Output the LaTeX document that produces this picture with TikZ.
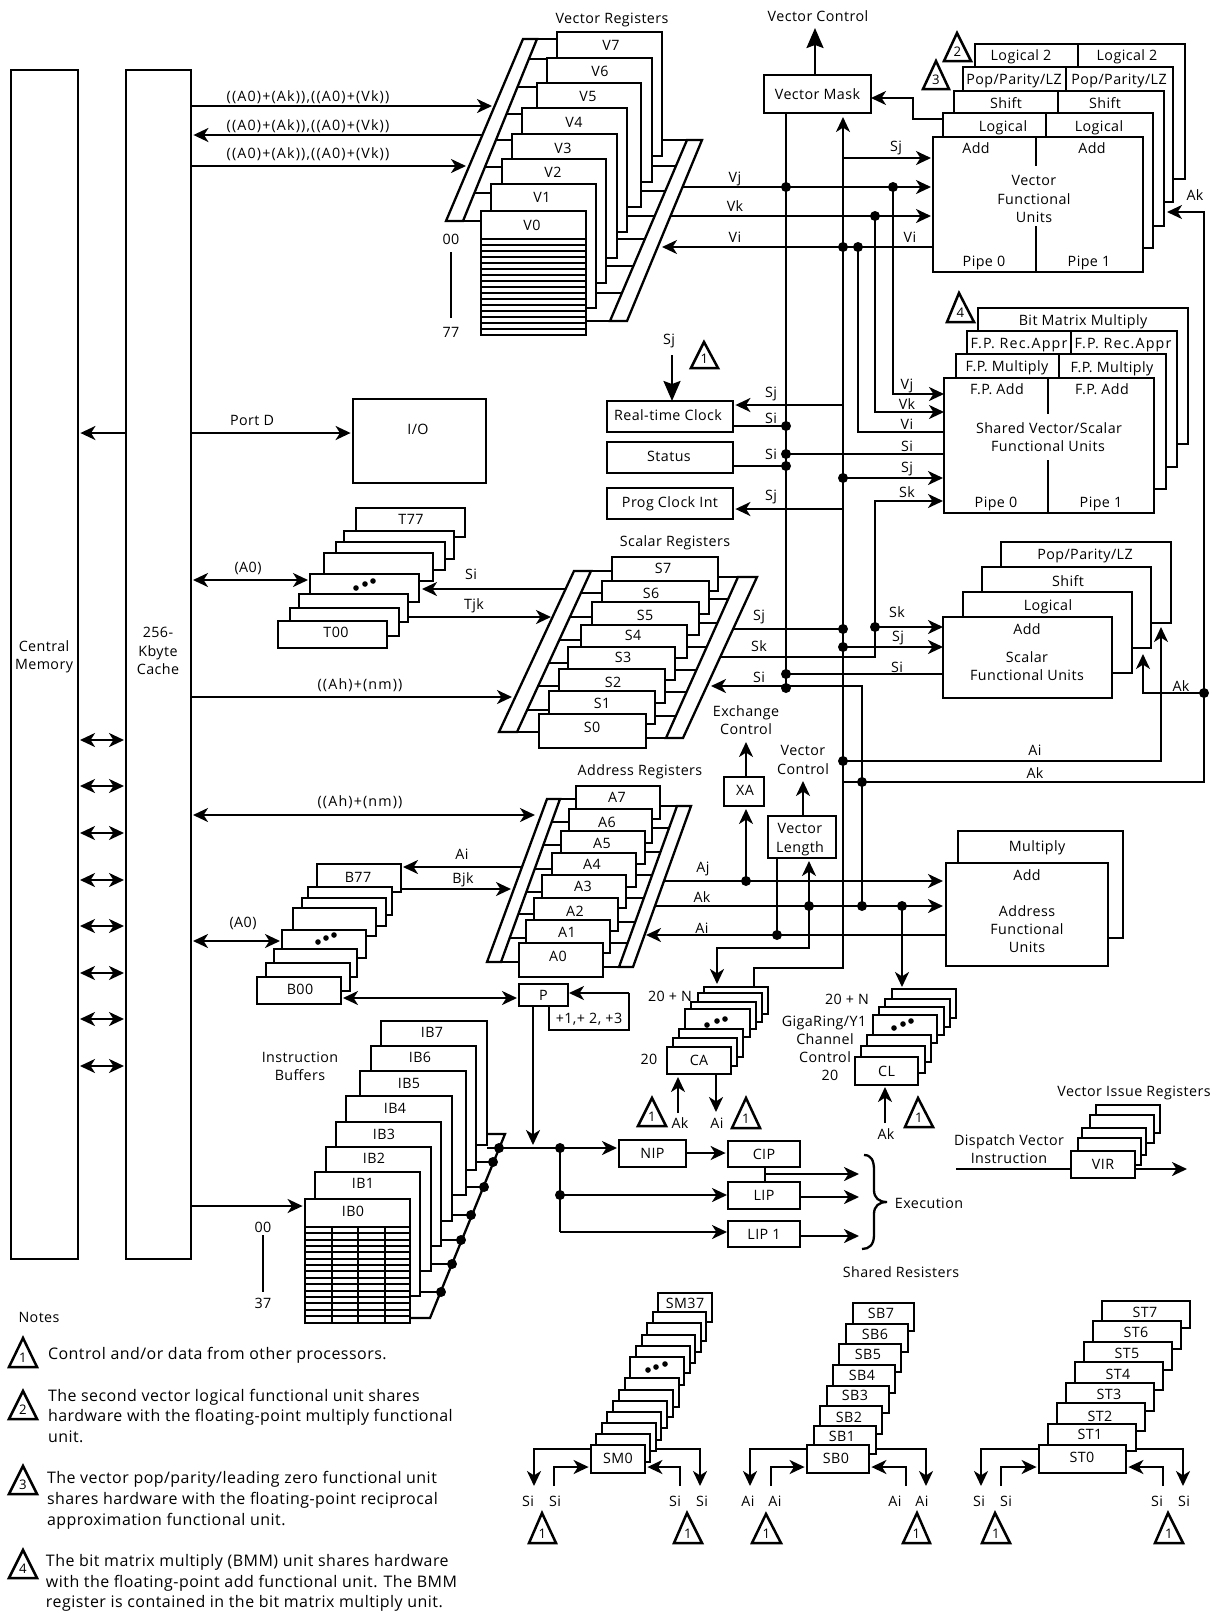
\documentclass[tikz,border=0pt]{standalone}
\usepackage{fontspec}
\setmainfont[LetterSpace=3]{Open Sans}
\newfontfamily\wideff[LetterSpace=8]{Open Sans}
\usetikzlibrary{arrows.meta,calc}
\newcommand\lf{\fontsize{7.14}{8.5}\selectfont}
\newcommand\nf{\fontsize{7.98}{9.5}\selectfont}
\newcounter{labc}\newcounter{junc}
\tikzset{
  wire/.style={line width=1.15pt,line cap=butt,line join=miter},
  arr/.style={wire,-{Stealth[length=7.5pt,width=7pt,inset=2.2pt]}},
  bigarr/.style={wire,-{Stealth[length=10pt,width=8.5pt,inset=1.5pt]}},
  darr/.style={wire,{Stealth[length=7.5pt,width=7pt,inset=2.2pt]}-{Stealth[length=7.5pt,width=7pt,inset=2.2pt]},shorten >=1pt,shorten <=1pt},
  gap/.style={shorten >=1.2pt},
  regbox/.style={draw,fill=white,line width=1.15pt,outer sep=0pt,inner sep=0pt,font=\lf,text height=5.1pt,text depth=0pt},
  lbl/.style={inner sep=0pt,outer sep=0pt,font=\lf,text height=5.1pt,text depth=0pt},
  notel/.style={inner sep=0pt,outer sep=0pt,font=\nf,text height=5.7pt,text depth=0pt,anchor=west},
  dot/.style={circle,fill=black,inner sep=0pt,minimum size=5pt,outer sep=0pt},
  numl/.style={inner sep=0pt,outer sep=0pt,font=\fontsize{6.6}{8}\selectfont,text height=4.7pt,text depth=0pt},
}
\newcommand\rbox[6]{%
  \pgfmathsetmacro\rbw{(#4-#2)*0.5}\pgfmathsetmacro\rbh{(#5-#3)*0.5}%
  \pgfmathsetmacro\rbx{(#2+#4)/2}\pgfmathsetmacro\rby{(#3+#5)/2}%
  \node[regbox,minimum width=\rbw pt,minimum height=\rbh pt] (#1) at (\rbx,\rby) {#6};}
\newcommand\lab[3]{\stepcounter{labc}\node[lbl] (lab\thelabc) at (#1,#2) {#3};}
\newcommand\noteline[3]{\stepcounter{labc}\node[notel] (lab\thelabc) at (#1,#2) {#3};}
\newcommand\junc[1]{\stepcounter{junc}\node[dot] (j\thejunc) at (#1) {};}
\newcommand\ntri[6]{\draw[wire,line width=1.25pt,fill=white] (#1,#3) -- (#2,#3) -- (#4,#5) -- cycle;
  \stepcounter{labc}\node[numl] (lab\thelabc) at ({(#1+#2)/2},#3-9) {#6};}
\newcommand\hties[5]{\foreach \yy/\xx in {#5} {\pgfmathsetmacro\ex{#1+(#2-\yy)*(#3-#1)/(#2-#4)}\draw[wire] (\ex,\yy) -- (\xx,\yy);}}
\newcommand\slantbar[6]{\draw[wire,fill=white] (#1,#3) -- (#2,#3) -- (#4,#6) -- (#5,#6) -- cycle;}
\newcommand\tdots[6]{\fill (#1,#2) circle[radius=1.4pt] (#3,#4) circle[radius=1.4pt] (#5,#6) circle[radius=1.4pt];}
\newcommand\xrails[1]{\foreach \nm/\val in {#1} {\coordinate (\nm) at (\val,0);}}
\newcommand\yrails[1]{\foreach \nm/\val in {#1} {\coordinate (\nm) at (0,\val);}}
\begin{document}
\begin{tikzpicture}[x=0.5pt,y=-0.5pt]
\useasboundingbox (0,0) rectangle (1218,1613);
\xrails{xT1/492,xT2/482,xT3/466,xAh1/512,xAh2/537,xA/786,xB/843,xVjS/682,xVkS/670,xViT/662,xVjD/893,xVkD/875,xViD/858,xFU/931,xFS/943,xSjS/733,xSkS/720,xSiT/711,xSk/875,xSi/862,xG/1204,xD/1161,xF/1143,xAjS/664,xAkS/655,xAiT/646,xXA/746,xVLu/803,xVLd/777,xVLa/809,xCAa/717,xCAb/754,xCL/902,xAF/944,xSjT/672,xMask/815,xLog/913,xSiTl/422,xSiS/566,xTjk/551,xAiT2/403,xAiS/522,xBjk/511,xP/533,xIBd/499,xNIP/617,xFork/560,xInstr/727,xEx/859,xCIPd/765,xPloop/629,xPl/549,xDisp/956,xVIRo/1187,xCAk/678,xCAi/716,xCLk/885}
\yrails{yT1/106,yT2/135,yT3/166,yPD/433,yA0T/580,yAh1/697,yAh2/815,yA0B/941,yIB/1206,ySjV/158,yVj/187,yVk/216,yVi/247,yVjF/394,yVkF/412,yViF/432,yRTj/405,yRTi/426,yStS/454,yStat/466,ySjS/478,yPC/509,ySkV/501,ySkF/627,ySjF/647,ySiF/674,ySj/629,ySk/657,ySi/686,ySiJ/688,yAiF/761,yAkF/782,yAkS/693,yAj/881,yAk/906,yAi/935,yLow/948,yUp/968,ySiBus/589,yTjk/617,yAiB/867,yBjk/889,yPB/998,yPl/1030,yPr/993,yIBl/1148,yLIP/1195,yLIP1/1232,yCIPo/1174,yLIPo/1197,yLIP1o/1236,yMaskB/119,yMaskA/98,yAkTop/212,yCAtip/984,yCLtip/987,yCAk/1113,yCAi/1112,yCLk/1123,yDisp/1169,yTopArr/28,ySjTop/355,yS1/1449,yS2/1467,yS3/1486,yPtip/1145,yXAtip/742,yVLtip/781,yNC/1153}
%
% Memory and cache
\rbox{mem}{11}{70}{78}{1259}{}
\rbox{cache}{126}{70}{191}{1259}{}
\lab{44}{646}{Central}\lab{44}{664}{Memory}
\lab{158}{632}{256-}\lab{158}{651}{Kbyte}\lab{158}{669}{Cache}
\foreach \yy in {740,786,833,880,926,973,1019,1066} {\coordinate (my\yy) at (0,\yy); \draw[darr] (mem.east|-my\yy) -- (cache.west|-my\yy);}
% I/O
\rbox{io}{353}{399}{486}{483}{}
\lab{418}{429}{I/O}
% Vector registers
\hties{463}{221}{537}{39}{39/557,59/547,87/537,114/522,140/512,167/502,193/491,221/481}
\hties{610}{321}{687}{140}{140/662,166/652,191/641,216/627,239/617,266/606,293/596,321/586}
\slantbar{446}{463}{221}{537}{523}{39}
\slantbar{610}{627}{321}{702}{687}{140}
\rbox{v7}{557}{32}{662}{156}{}\lab{611}{45}{V7}
\rbox{v6}{547}{58}{652}{182}{}\lab{600}{71}{V6}
\rbox{v5}{537}{83}{641}{207}{}\lab{588}{96}{V5}
\rbox{v4}{522}{108}{627}{232}{}\lab{574}{122}{V4}
\rbox{v3}{512}{134}{617}{258}{}\lab{563}{148}{V3}
\rbox{v2}{502}{159}{606}{283}{}\lab{553}{172}{V2}
\rbox{v1}{491}{184}{596}{308}{}\lab{542}{197}{V1}
\rbox{v0}{481}{211}{586}{335}{}\lab{532}{225}{V0}
\foreach \k in {0,...,15} {\draw[line width=1pt] (481,239+6*\k) -- (586,239+6*\k);}
\lab{612}{18}{Vector Registers}
\node[lbl] (l00v) at (451,239) {00};
\node[lbl] (l77v) at (451,332) {77};
\draw[wire,shorten <=4pt,shorten >=4.5pt] (l00v.south) -- (l77v.north);
% Scalar registers
\hties{517}{732}{591}{571}{571/612,593/602,617/592,640/581,663/568,686/559,710/549,732/539}
\hties{666}{738}{738}{577}{577/718,599/709,623/699,647/687,670/675,692/665,716/655,738/646}
\slantbar{499}{517}{732}{591}{574}{571}
\slantbar{666}{683}{738}{757}{738}{577}
\rbox{s7}{612}{557}{718}{591}{}\lab{663}{568}{S7}
\rbox{s6}{602}{581}{709}{614}{}\lab{651}{593}{S6}
\rbox{s5}{592}{602}{699}{635}{}\lab{645}{615}{S5}
\rbox{s4}{581}{625}{687}{658}{}\lab{633}{635}{S4}
\rbox{s3}{568}{647}{675}{680}{}\lab{623}{657}{S3}
\rbox{s2}{559}{669}{665}{703}{}\lab{613}{682}{S2}
\rbox{s1}{549}{691}{655}{724}{}\lab{602}{703}{S1}
\rbox{s0}{539}{714}{646}{748}{}\lab{592}{727}{S0}
\lab{675}{541}{Scalar Registers}
% Address registers
\hties{501}{962}{560}{799}{799/576,822/569,845/561,869/552,892/542,914/534,938/526,962/519}
\hties{619}{967}{677}{806}{806/660,828/652,852/645,875/636,898/626,922/618,943/610,967/603}
\slantbar{487}{501}{962}{560}{547}{799}
\slantbar{619}{633}{967}{691}{677}{806}
\rbox{a7}{576}{786}{660}{819}{}\lab{617}{797}{A7}
\rbox{a6}{569}{809}{652}{843}{}\lab{607}{822}{A6}
\rbox{a5}{561}{831}{645}{864}{}\lab{602}{843}{A5}
\rbox{a4}{552}{853}{636}{887}{}\lab{592}{864}{A4}
\rbox{a3}{542}{875}{626}{908}{}\lab{583}{886}{A3}
\rbox{a2}{534}{898}{618}{931}{}\lab{575}{911}{A2}
\rbox{a1}{526}{920}{610}{953}{}\lab{567}{932}{A1}
\rbox{a0}{519}{943}{603}{977}{}\lab{558}{956}{A0}
\lab{640}{770}{Address Registers}
% T registers
\rbox{t77}{356}{508}{465}{537}{}\lab{411}{519}{T77}
\rbox{t6}{344}{531}{454}{559}{}
\rbox{t5}{336}{542}{445}{570}{}
\rbox{t4}{324}{553}{433}{581}{}
\rbox{tdots}{310}{574}{419}{602}{}
\tdots{356}{588}{365}{584}{373}{581}
\rbox{t2}{299}{594}{408}{622}{}
\rbox{t1}{290}{608}{399}{636}{}
\rbox{t00}{278}{621}{387}{648}{}\lab{336}{632}{T00}
% B registers
\rbox{b77}{317}{864}{401}{892}{}\lab{358}{877}{B77}
\rbox{b6}{308}{887}{392}{915}{}
\rbox{b5}{302}{898}{386}{926}{}
\rbox{b4}{293}{908}{376}{936}{}
\rbox{bdots}{282}{930}{366}{958}{}
\tdots{318}{942}{326}{938}{334}{935}
\rbox{b2}{274}{949}{357}{977}{}
\rbox{b1}{266}{963}{350}{991}{}
\rbox{b00}{257}{977}{341}{1004}{}\lab{300}{989}{B00}
% Instruction buffers
\foreach \xa/\ya/\xb in {487/1148/499,476/1162/493,466/1187/484,452/1215/471,441/1240/461,431/1264/452,420/1292/441} {\draw[wire] (\xa,\ya) -- (\xb,\ya);}
\draw[wire] (410,1318) -- (430,1318) -- (505,1134) -- (487,1134);
\rbox{ib7}{381}{1021}{487}{1145}{}\lab{432}{1032}{IB7}
\rbox{ib6}{371}{1046}{476}{1170}{}\lab{420}{1057}{IB6}
\rbox{ib5}{360}{1071}{466}{1195}{}\lab{409}{1083}{IB5}
\rbox{ib4}{346}{1096}{452}{1221}{}\lab{395}{1108}{IB4}
\rbox{ib3}{336}{1122}{441}{1246}{}\lab{384}{1134}{IB3}
\rbox{ib2}{326}{1147}{431}{1271}{}\lab{374}{1158}{IB2}
\rbox{ib1}{315}{1172}{420}{1296}{}\lab{363}{1183}{IB1}
\rbox{ib0}{305}{1199}{410}{1323}{}\lab{353}{1211}{IB0}
\foreach \k in {0,...,14} {\draw[line width=1pt] (305,1227+6.35*\k) -- (410,1227+6.35*\k);}
\foreach \xx in {332,358,385} {\draw[wire] (\xx,1227) -- (\xx,1323);}
\foreach \xx/\yy in {499/1148,493/1162,484/1187,471/1215,461/1240,452/1264,441/1292} {\coordinate (ibd) at (\xx,\yy); \junc{ibd}}
\lab{300}{1057}{Instruction}\lab{300}{1075}{Buffers}
\node[lbl] (l00i) at (263,1227) {00};
\node[lbl] (l37i) at (263,1303) {37};
\draw[wire,shorten <=1.5pt,shorten >=3pt] (l00i.south) -- (l37i.north);
% Vector Mask
\rbox{vmask}{764}{75}{871}{113}{Vector Mask}
\lab{818}{16}{Vector Control}
% Vector FU
\rbox{vf4}{975}{44}{1185}{179}{}\draw[wire] (1078,44) -- (1078,67);
\rbox{vf3}{963}{67}{1173}{202}{}\draw[wire] (1066,67) -- (1066,91);
\rbox{vf2}{954}{91}{1164}{226}{}\draw[wire] (1058,91) -- (1058,113);
\rbox{vf1}{943}{113}{1153}{248}{}\draw[wire] (1046,113) -- (1046,137);
\rbox{vf0}{933}{137}{1143}{272}{}
\draw[wire] (1036,137) -- (1036,166) (1036,226) -- (1036,272);
\lab{1021}{55}{Logical 2}\lab{1127}{55}{Logical 2}
\lab{1014}{79}{Pop/Parity/LZ}\lab{1119}{79}{Pop/Parity/LZ}
\lab{1006}{103}{Shift}\lab{1105}{103}{Shift}
\lab{1003}{126}{Logical}\lab{1099}{126}{Logical}
\lab{976}{148}{Add}\lab{1092}{148}{Add}
\lab{1034}{180}{Vector}\lab{1034}{199}{Functional}\lab{1034}{217}{Units}
\lab{984}{261}{Pipe 0}\lab{1089}{261}{Pipe 1}
\ntri{944}{971}{61}{957}{33}{2}
\ntri{923}{949}{89}{936}{61}{3}
% Shared FU
\rbox{sf3}{978}{308}{1188}{444}{}
\rbox{sf2}{967}{331}{1177}{467}{}\draw[wire] (1071,331) -- (1071,354);
\rbox{sf1}{956}{354}{1166}{489}{}\draw[wire] (1059,354) -- (1059,378);
\rbox{sf0}{944}{378}{1154}{513}{}
\draw[wire] (1048,378) -- (1048,414) (1048,460) -- (1048,513);
\lab{1083}{320}{Bit Matrix Multiply}
\lab{1019}{343}{{\wideff F.P. Rec.Appr}}\lab{1123}{343}{{\wideff F.P. Rec.Appr}}
\lab{1007}{366}{F.P. Multiply}\lab{1112}{367}{F.P. Multiply}
\lab{997}{389}{F.P. Add}\lab{1102}{389}{F.P. Add}
\lab{1049}{428}{Shared Vector/Scalar}\lab{1048}{446}{Functional Units}
\lab{996}{502}{Pipe 0}\lab{1101}{502}{Pipe 1}
\ntri{947}{974}{322}{959}{293}{4}
% Scalar FU
\rbox{cf3}{1001}{542}{1171}{623}{}
\rbox{cf2}{982}{567}{1151}{648}{}
\rbox{cf1}{963}{592}{1132}{673}{}
\rbox{cf0}{943}{617}{1112}{698}{}
\lab{1085}{554}{Pop/Parity/LZ}\lab{1068}{581}{Shift}\lab{1048}{605}{Logical}
\lab{1027}{629}{Add}\lab{1027}{657}{Scalar}\lab{1027}{675}{Functional Units}
% Address FU
\rbox{af1}{958}{831}{1123}{938}{}
\rbox{af0}{946}{863}{1108}{966}{}
\lab{1037}{846}{Multiply}\lab{1027}{875}{Add}
\lab{1027}{911}{Address}\lab{1027}{929}{Functional}\lab{1027}{947}{Units}
% clock etc
\rbox{rtc}{607}{401}{733}{432}{}\lab{668}{415}{Real-time Clock}
\rbox{status}{607}{442}{733}{473}{}\lab{669}{456}{Status}
\rbox{prog}{607}{488}{733}{519}{}\lab{670}{502}{Prog Clock Int}
\lab{669}{339}{Sj}
\ntri{691}{718}{368}{704}{342}{1}
\rbox{xa}{724}{777}{764}{806}{}\lab{745}{790}{XA}
\rbox{vlen}{768}{816}{836}{858}{}
\lab{800}{828}{Vector}\lab{800}{847}{Length}
\lab{746}{711}{Exchange}\lab{746}{729}{Control}
\lab{803}{750}{Vector}\lab{803}{769}{Control}
% CA
\rbox{ca6}{704}{987}{768}{1014}{}
\rbox{ca5}{698}{993}{762}{1022}{}
\rbox{ca4}{691}{1002}{756}{1029}{}
\rbox{cadots}{685}{1009}{750}{1037}{}
\tdots{707}{1025}{717}{1021}{725}{1019}
\rbox{ca2}{679}{1029}{743}{1057}{}
\rbox{ca1}{673}{1038}{737}{1066}{}
\rbox{ca0}{667}{1047}{731}{1074}{CA}
\lab{670}{996}{20 + N}\lab{649}{1059}{20}
\lab{680}{1123}{Ak}\lab{717}{1123}{Ai}
\ntri{638}{666}{1126}{652}{1098}{1}
\ntri{732}{760}{1128}{746}{1098}{1}
% CL
\rbox{cl6}{892}{989}{956}{1018}{}
\rbox{cl5}{885}{999}{950}{1027}{}
\rbox{cl4}{879}{1007}{944}{1035}{}
\rbox{cldots}{873}{1015}{937}{1043}{}
\tdots{894}{1028}{903}{1024}{911}{1021}
\rbox{cl2}{867}{1035}{931}{1062}{}
\rbox{cl1}{861}{1046}{925}{1073}{}
\rbox{cl0}{855}{1057}{918}{1085}{CL}
\lab{847}{999}{20 + N}\lab{824}{1021}{GigaRing/Y1}\lab{825}{1039}{Channel}\lab{825}{1057}{Control}\lab{830}{1075}{20}
\lab{886}{1134}{Ak}
\ntri{905}{933}{1127}{918}{1098}{1}
% P, instruction pointers
\rbox{p}{519}{984}{568}{1006}{P}
\lab{589}{1018}{+1,+ 2, +3}
\rbox{nip}{619}{1140}{686}{1167}{NIP}
\rbox{cip}{728}{1141}{800}{1167}{CIP}
\rbox{lip}{728}{1182}{800}{1209}{LIP}
\rbox{lipa}{728}{1221}{800}{1247}{LIP 1}
\draw[wire] (864,1155) .. controls (871,1155) and (874,1160) .. (874,1170) -- (874,1190) .. controls (874,1198) and (879,1202) .. (887,1202) .. controls (879,1202) and (874,1206) .. (874,1214) -- (874,1235) .. controls (874,1245) and (869,1249) .. (862,1249);
\lab{929}{1203}{Execution}
% VIR
\rbox{vir4}{1096}{1105}{1160}{1133}{}
\rbox{vir3}{1090}{1115}{1154}{1143}{}
\rbox{vir2}{1082}{1128}{1146}{1155}{}
\rbox{vir1}{1078}{1138}{1141}{1165}{}
\rbox{vir0}{1071}{1151}{1135}{1178}{VIR}
\lab{1134}{1091}{Vector Issue Registers}
\lab{1009}{1140}{Dispatch Vector}\lab{1009}{1158}{Instruction}
% Wire labels left
\lab{308}{96}{{\wideff ((A0)+(Ak)),((A0)+(Vk))}}\lab{308}{125}{{\wideff ((A0)+(Ak)),((A0)+(Vk))}}\lab{308}{153}{{\wideff ((A0)+(Ak)),((A0)+(Vk))}}
\lab{252}{420}{Port D}\lab{248}{567}{(A0)}\lab{360}{684}{{\wideff ((Ah)+(nm))}}\lab{360}{801}{{\wideff ((Ah)+(nm))}}\lab{243}{922}{(A0)}
\lab{471}{574}{Si}\lab{474}{604}{Tjk}\lab{462}{854}{Ai}\lab{463}{878}{Bjk}
\lab{735}{177}{Vj}\lab{735}{206}{Vk}\lab{735}{237}{Vi}
\lab{896}{146}{Sj}\lab{910}{237}{Vi}
\lab{907}{384}{Vj}\lab{907}{404}{Vk}\lab{907}{424}{Vi}\lab{907}{446}{Si}\lab{907}{467}{Sj}\lab{907}{492}{Sk}
\lab{771}{392}{Sj}\lab{771}{418}{Si}\lab{771}{454}{Si}\lab{771}{495}{Sj}
\lab{759}{615}{Sj}\lab{759}{646}{Sk}\lab{759}{677}{Si}
\lab{897}{612}{Sk}\lab{898}{636}{Sj}\lab{897}{667}{Si}
\lab{1195}{195}{Ak}\lab{1181}{686}{Ak}\lab{1035}{750}{Ai}\lab{1035}{773}{Ak}
\lab{703}{867}{Aj}\lab{702}{897}{Ak}\lab{702}{928}{Ai}
% Connectors: cache side
\draw[arr] (cache.east|-yT1) -- (xT1|-yT1);
\draw[arr,gap] (xT2|-yT2) -- (cache.east|-yT2);
\draw[arr] (cache.east|-yT3) -- (xT3|-yT3);
\draw[arr,gap] (cache.east|-yPD) -- (io.west|-yPD);
\draw[arr,gap] (cache.west|-yPD) -- (mem.east|-yPD);
\draw[darr] (cache.east|-yA0T) -- (tdots.west|-yA0T);
\draw[arr] (cache.east|-yAh1) -- (xAh1|-yAh1);
\draw[darr] (cache.east|-yAh2) -- (xAh2|-yAh2);
\draw[darr] (cache.east|-yA0B) -- (bdots.west|-yA0B);
\draw[arr,gap] (cache.east|-yIB) -- (ib0.west|-yIB);
\draw[arr] (xSiS|-ySiBus) -- (xSiTl|-ySiBus);
\draw[arr] (t2.east|-yTjk) -- (xTjk|-yTjk);
\draw[arr] (xAiS|-yAiB) -- (xAiT2|-yAiB);
\draw[arr] (b77.east|-yBjk) -- (xBjk|-yBjk);
\draw[darr] (b00.east|-yPB) -- (p.west|-yPB);
% Vector Control
\draw[bigarr] (vmask.north-|xMask) -- (xMask|-yTopArr);
\draw[wire] (xA|-vmask.south) -- (xA|-ySiJ);
\draw[arr,shorten >=2pt] (xCAb|-ca6.north) -- (xCAb|-yUp) -- (xB|-yUp) -- (xB|-vmask.south);
\draw[arr] (vf1.west|-yMaskB) -- (xLog|-yMaskB) -- (xLog|-yMaskA) -- (vmask.east|-yMaskA);
% Vector buses
\draw[arr] (xB|-ySjV) -- (xFU|-ySjV);
\draw[arr] (xVjS|-yVj) -- (xFU|-yVj);
\draw[arr] (xVkS|-yVk) -- (xFU|-yVk);
\draw[arr] (vf0.west|-yVi) -- (xViT|-yVi);
\draw[arr] (xVjD|-yVj) -- (xVjD|-yVjF) -- (sf0.west|-yVjF);
\draw[arr] (xVkD|-yVk) -- (xVkD|-yVkF) -- (sf0.west|-yVkF);
\draw[wire] (xViD|-yVi) -- (xViD|-yViF) -- (sf0.west|-yViF);
\draw[wire] (xA|-yStS) -- (sf0.west|-yStS);
\draw[arr] (xB|-ySjS) -- (xFS|-ySjS);
\draw[arr] (xSkS|-ySk) -- (xSk|-ySk) -- (xSk|-ySkV) -- (xFS|-ySkV);
% Clocks
\draw[bigarr] (xSjT|-ySjTop) -- (rtc.north-|xSjT);
\draw[arr,gap] (xB|-yRTj) -- (rtc.east|-yRTj);
\draw[wire] (rtc.east|-yRTi) -- (xA|-yRTi);
\draw[wire] (status.east|-yStat) -- (xA|-yStat);
\draw[arr,gap] (xB|-yPC) -- (prog.east|-yPC);
% Scalar
\draw[wire] (xSjS|-ySj) -- (xB|-ySj);
\draw[arr] (xSk|-ySkF) -- (cf0.west|-ySkF);
\draw[arr] (xB|-ySjF) -- (cf0.west|-ySjF);
\draw[wire] (xA|-ySiF) -- (cf0.west|-ySiF);
\draw[arr] (xSi|-yAk) -- (xSi|-ySi) -- (xSiT|-ySi);
% Ak, Ai
\draw[arr,shorten >=2pt] (xB|-yAiF) -- (xD|-yAiF) -- (xD|-cf3.south);
\draw[arr,shorten >=1.5pt] (xB|-yAkF) -- (xG|-yAkF) -- (xG|-yAkTop) -- (vf2.east|-yAkTop);
\draw[arr,shorten >=3pt] (xG|-yAkS) -- (xF|-yAkS) -- (xF|-cf2.south);
% Address
\draw[arr] (xAjS|-yAj) -- (xFS|-yAj);
\draw[arr] (xAkS|-yAk) -- (xFS|-yAk);
\draw[arr] (af0.west|-yAi) -- (xAiT|-yAi);
\draw[arr,shorten >=1.5pt] (xXA|-yAj) -- (xXA|-xa.south);
\draw[arr] (xXA|-xa.north) -- (xXA|-yXAtip);
\draw[wire] (xVLd|-vlen.south) -- (xVLd|-yAi);
\draw[arr,shorten >=1.5pt] (xVLa|-yAk) -- (xVLa|-vlen.south);
\draw[arr] (xVLu|-vlen.north) -- (xVLu|-yVLtip);
\draw[arr] (xVLa|-yAk) -- (xVLa|-yLow) -- (xCAa|-yLow) -- (xCAa|-yCAtip);
\draw[arr] (xCL|-yAk) -- (xCL|-yCLtip);
\draw[arr,shorten >=1.5pt] (xCAk|-yCAk) -- (xCAk|-ca0.south);
\draw[arr] (xCAi|-ca0.south) -- (xCAi|-yCAi);
\draw[arr,shorten >=1pt] (xCLk|-yCLk) -- (xCLk|-cl0.south);
% P
\draw[arr,shorten >=0.5pt] (xPloop|-yPr) -- (p.east|-yPr);
\draw[wire] (xPl|-p.south) -- (xPl|-yPl) -- (xPloop|-yPl) -- (xPloop|-yPr);
\draw[arr] (xP|-p.south) -- (xP|-yPtip);
\draw[arr] (xIBd|-yIBl) -- (xNIP|-yIBl);
\draw[wire] (xFork|-yIBl) -- (xFork|-yLIP1);
\draw[arr] (xFork|-yLIP) -- (xInstr|-yLIP);
\draw[arr] (xFork|-yLIP1) -- (xInstr|-yLIP1);
\draw[arr,gap] (nip.east|-yNC) -- (cip.west|-yNC);
\draw[wire] (xCIPd|-cip.south) -- (xCIPd|-lip.north);
\draw[arr] (xCIPd|-yCIPo) -- (xEx|-yCIPo);
\draw[arr] (lip.east|-yLIPo) -- (xEx|-yLIPo);
\draw[arr] (lipa.east|-yLIP1o) -- (xEx|-yLIP1o);
\draw[wire] (xDisp|-yDisp) -- (vir0.west|-yDisp);
\draw[arr] (vir0.east|-yDisp) -- (xVIRo|-yDisp);
% Junctions
\foreach \jx/\jy in {xA/yVj,xVjD/yVj,xVkD/yVk,xB/yVi,xViD/yVi,xA/yRTi,xA/yStS,xA/yStat,xB/ySjS,xB/ySj,xB/ySjF,xSk/ySkF,xA/ySiF,xA/ySiJ,xB/yAiF,xSi/yAkF,xG/yAkS,xXA/yAj,xVLa/yAk,xSi/yAk,xCL/yAk,xVLd/yAi,xFork/yIBl,xFork/yLIP} {\coordinate (jp) at (\jx|-\jy); \junc{jp}}
% Shared registers
\lab{901}{1272}{Shared Resisters}
\rbox{sm37}{658}{1293}{712}{1322}{}\lab{685}{1303}{SM37}
\rbox{sm10}{653}{1312}{706}{1341}{}
\rbox{sm9}{647}{1323}{701}{1352}{}
\rbox{sm8}{642}{1335}{695}{1363}{}
\rbox{sm7}{636}{1346}{690}{1373}{}
\rbox{smdots}{630}{1357}{684}{1385}{}
\tdots{648}{1370}{656}{1367}{665}{1364}
\rbox{sm5}{625}{1378}{679}{1407}{}
\rbox{sm4}{619}{1390}{673}{1417}{}
\rbox{sm3}{613}{1401}{667}{1428}{}
\rbox{sm2}{607}{1412}{661}{1440}{}
\rbox{sm1}{602}{1423}{656}{1451}{}
\rbox{sma}{596}{1434}{650}{1462}{}
\rbox{sm0}{591}{1445}{645}{1473}{}\lab{618}{1458}{SM0}
\rbox{sb7}{853}{1303}{914}{1331}{}\lab{881}{1313}{SB7}
\rbox{sb6}{846}{1324}{908}{1352}{}\lab{875}{1334}{SB6}
\rbox{sb5}{839}{1344}{901}{1372}{}\lab{868}{1354}{SB5}
\rbox{sb4}{833}{1365}{895}{1393}{}\lab{862}{1375}{SB4}
\rbox{sb3}{827}{1386}{889}{1413}{}\lab{855}{1395}{SB3}
\rbox{sb2}{820}{1406}{882}{1434}{}\lab{849}{1417}{SB2}
\rbox{sb1}{814}{1426}{876}{1454}{}\lab{842}{1436}{SB1}
\rbox{sb0}{807}{1445}{869}{1473}{}\lab{836}{1458}{SB0}
\rbox{st7}{1102}{1301}{1190}{1328}{}\lab{1145}{1312}{ST7}
\rbox{st6}{1093}{1321}{1181}{1349}{}\lab{1136}{1332}{ST6}
\rbox{st5}{1084}{1342}{1172}{1370}{}\lab{1127}{1353}{ST5}
\rbox{st4}{1075}{1362}{1163}{1390}{}\lab{1118}{1374}{ST4}
\rbox{st3}{1066}{1383}{1154}{1411}{}\lab{1109}{1394}{ST3}
\rbox{st2}{1057}{1403}{1145}{1431}{}\lab{1100}{1416}{ST2}
\rbox{st1}{1048}{1424}{1136}{1451}{}\lab{1090}{1434}{ST1}
\rbox{st0}{1039}{1445}{1126}{1473}{}\lab{1082}{1457}{ST0}
\xrails{sa1/534,sa2/554,sa3/680,sa4/700,sa5/656,sb1x/750,sb2x/771,sb3x/906,sb4x/926,sb5x/876,sc1/981,sc2/1001,sc3/1163,sc4/1183,sc5/1136}
% SM
\draw[arr] (sm0.west|-yS1) -- (sa1|-yS1) -- (sa1|-yS3);
\draw[arr,gap] (sa2|-yS3) -- (sa2|-yS2) -- (sm0.west|-yS2);
\draw[arr,gap] (sa3|-yS3) -- (sa3|-yS2) -- (sm0.east|-yS2);
\draw[arr] (sa5|-yS1) -- (sa4|-yS1) -- (sa4|-yS3);
% SB
\draw[arr] (sb0.west|-yS1) -- (sb1x|-yS1) -- (sb1x|-yS3);
\draw[arr,gap] (sb2x|-yS3) -- (sb2x|-yS2) -- (sb0.west|-yS2);
\draw[arr,gap] (sb3x|-yS3) -- (sb3x|-yS2) -- (sb0.east|-yS2);
\draw[arr] (sb5x|-yS1) -- (sb4x|-yS1) -- (sb4x|-yS3);
% ST
\draw[arr] (st0.west|-yS1) -- (sc1|-yS1) -- (sc1|-yS3);
\draw[arr,gap] (sc2|-yS3) -- (sc2|-yS2) -- (st0.west|-yS2);
\draw[arr,gap] (sc3|-yS3) -- (sc3|-yS2) -- (st0.east|-yS2);
\draw[arr] (sc5|-yS1) -- (sc4|-yS1) -- (sc4|-yS3);
\lab{528}{1501}{Si}\lab{555}{1501}{Si}\lab{675}{1501}{Si}\lab{702}{1501}{Si}
\lab{748}{1501}{Ai}\lab{775}{1501}{Ai}\lab{895}{1501}{Ai}\lab{922}{1501}{Ai}
\lab{979}{1501}{Si}\lab{1006}{1501}{Si}\lab{1157}{1501}{Si}\lab{1184}{1501}{Si}
\ntri{529}{556}{1543}{542}{1513}{1}
\ntri{674}{702}{1543}{687}{1513}{1}
\ntri{752}{781}{1543}{766}{1514}{1}
\ntri{903}{930}{1543}{917}{1513}{1}
\ntri{982}{1010}{1543}{995}{1513}{1}
\ntri{1155}{1183}{1543}{1168}{1513}{1}
% Notes
\lab{39}{1317}{Notes}
\ntri{9}{37}{1367}{23}{1338}{1}
\ntri{9}{37}{1419}{23}{1391}{2}
\ntri{9}{37}{1494}{23}{1466}{3}
\ntri{9}{37}{1578}{23}{1550}{4}
\noteline{48}{1354}{Control and/or data from other processors.}
\noteline{48}{1396}{The second vector logical functional unit shares}
\noteline{48}{1416}{hardware with the floating-point multiply functional}
\noteline{48}{1437}{unit.}
\noteline{47}{1478}{The vector pop/parity/leading zero functional unit}
\noteline{47}{1499}{shares hardware with the floating-point reciprocal}
\noteline{47}{1520}{approximation functional unit.}
\noteline{46}{1561}{The bit matrix multiply (BMM) unit shares hardware}
\noteline{46}{1582}{with the floating-point add functional unit. The BMM}
\noteline{46}{1602}{register is contained in the bit matrix multiply unit.}
\end{tikzpicture}
\end{document}
